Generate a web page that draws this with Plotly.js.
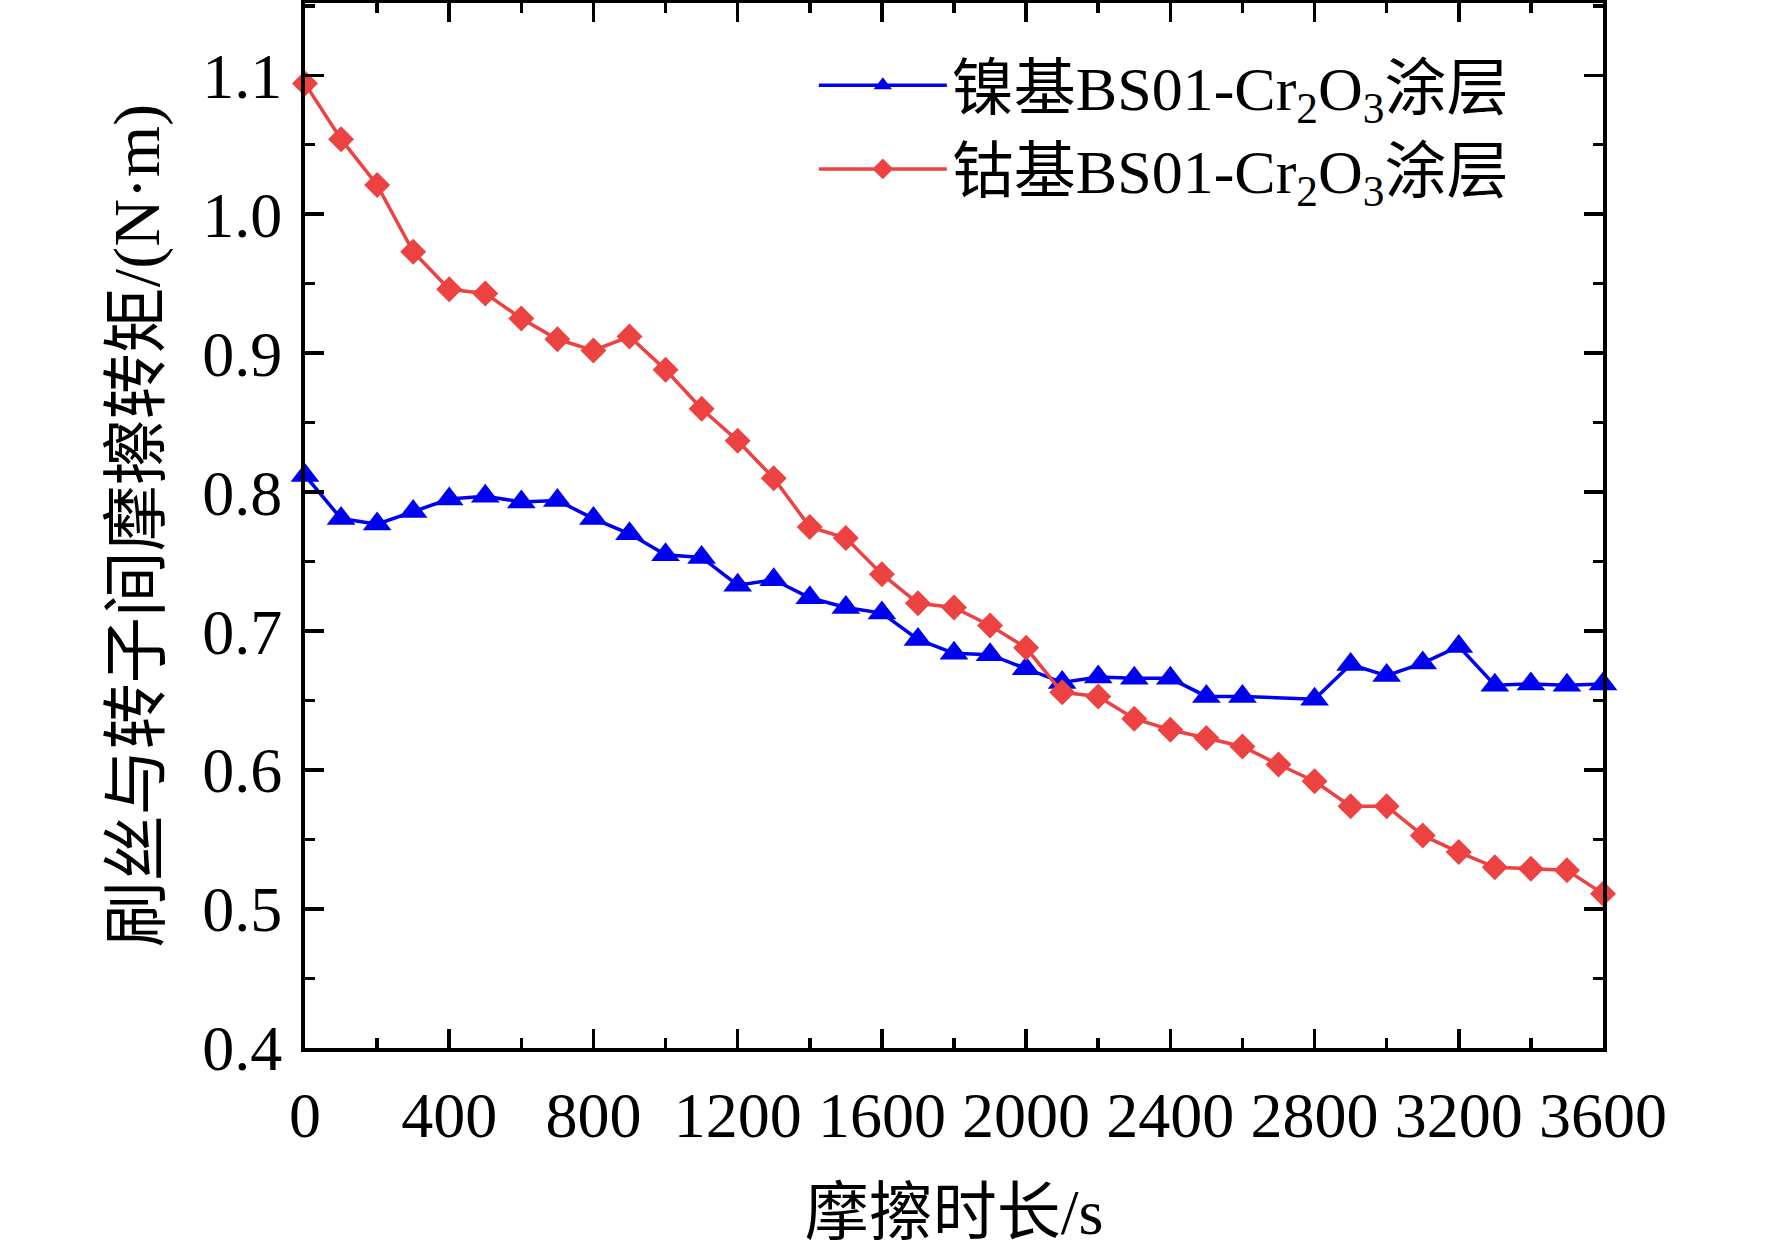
<!DOCTYPE html>
<html>
<head>
<meta charset="utf-8">
<script src="https://cdn.plot.ly/plotly-3.0.1.min.js"></script>
<style>
  html, body { margin: 0; padding: 0; background: #fff; }
  #chart { width: 1772px; height: 1252px; }
</style>
</head>
<body>
<div id="chart"></div>
<script>
// friction time, s
let time_s = [0, 100, 200, 300, 400, 500, 600, 700, 800, 900,
    1000, 1100, 1200, 1300, 1400, 1500, 1600, 1700, 1800, 1900,
    2000, 2100, 2200, 2300, 2400, 2500, 2600, 2700, 2800, 2900,
    3000, 3100, 3200, 3300, 3400, 3500, 3600];

// nickel based coating has no point at 2700 s
let time_ni = time_s.filter(function (t) { return t !== 2700; });

let torque_ni = [0.812, 0.781, 0.777, 0.786, 0.795, 0.797, 0.793, 0.794, 0.781, 0.770,
    0.755, 0.753, 0.733, 0.737, 0.724, 0.717, 0.713, 0.694, 0.684, 0.683,
    0.673, 0.663, 0.667, 0.666, 0.666, 0.653, 0.653, 0.651, 0.676,
    0.668, 0.677, 0.689, 0.661, 0.662, 0.661, 0.662];

let torque_co = [1.094, 1.054, 1.021, 0.973, 0.946, 0.943, 0.925, 0.910, 0.902, 0.912,
    0.888, 0.860, 0.837, 0.810, 0.775, 0.767, 0.741, 0.720, 0.717, 0.704,
    0.688, 0.656, 0.653, 0.637, 0.629, 0.623, 0.617, 0.604, 0.592, 0.574,
    0.574, 0.553, 0.541, 0.530, 0.529, 0.528, 0.511];

let series_names = [
    "镍基BS01-Cr<sub>2</sub>O<sub>3</sub>涂层",
    "钴基BS01-Cr<sub>2</sub>O<sub>3</sub>涂层"
];
let x_ticks = [0, 400, 800, 1200, 1600, 2000, 2400, 2800, 3200, 3600];
let y_ticks = [0.4, 0.5, 0.6, 0.7, 0.8, 0.9, 1.0, 1.1];

let blue = "rgb(0,0,240)";
let red = "rgb(236,66,66)";
let serif = "Liberation Serif, Noto Sans CJK SC, serif";

function axisStyle() {
    return {
        showline: true,
        linecolor: "black",
        linewidth: 4,
        mirror: "ticks",
        ticks: "inside",
        ticklen: 19,
        tickwidth: 3.5,
        tickcolor: "black",
        showgrid: false,
        zeroline: false,
        tickfont: { family: serif, size: 64, color: "black" },
        minor: { ticks: "inside", ticklen: 10, tickwidth: 3.5, tickcolor: "black", showgrid: false }
    };
}

var data = [
    {
        type: "scatter",
        mode: "lines+markers",
        name: series_names[0],
        x: time_ni,
        y: torque_ni,
        line: { color: blue, width: 3.5 },
        marker: { symbol: "triangle-up", size: 25, color: blue },
        cliponaxis: false
    },
    {
        type: "scatter",
        mode: "lines+markers",
        name: series_names[1],
        x: time_s,
        y: torque_co,
        line: { color: red, width: 3.5 },
        marker: { symbol: "diamond", size: 20, color: red },
        cliponaxis: false
    }
];

var xaxis = axisStyle();
xaxis.range = [0, 3600];
xaxis.tickvals = x_ticks;
xaxis.minor.dtick = 200;
xaxis.ticklabelstandoff = 8;
xaxis.title = {
    text: "摩擦时长/s",
    font: { family: serif, size: 64, color: "black" },
    standoff: 40
};

var yaxis = axisStyle();
yaxis.range = [0.4, 1.152];
yaxis.tickvals = y_ticks;
yaxis.tickformat = ".1f";
yaxis.minor.dtick = 0.05;
yaxis.ticklabelstandoff = 6;
yaxis.title = {
    text: "刷丝与转子间摩擦转矩/(N·m)",
    font: { family: serif, size: 66, color: "black" },
    standoff: 22
};

var layout = {
    width: 1772,
    height: 1252,
    margin: { l: 305, r: 169, t: 3, b: 204 },
    paper_bgcolor: "white",
    plot_bgcolor: "white",
    font: { family: serif, color: "black" },
    xaxis: xaxis,
    yaxis: yaxis,
    showlegend: true,
    legend: {
        x: 0.392,
        y: 0.966,
        xanchor: "left",
        yanchor: "top",
        bgcolor: "rgba(0,0,0,0)",
        font: { family: serif, size: 62, color: "black" },
        itemwidth: 128,
        tracegroupgap: 0
    }
};

Plotly.newPlot("chart", data, layout, { displayModeBar: false, staticPlot: true });
</script>
</body>
</html>
